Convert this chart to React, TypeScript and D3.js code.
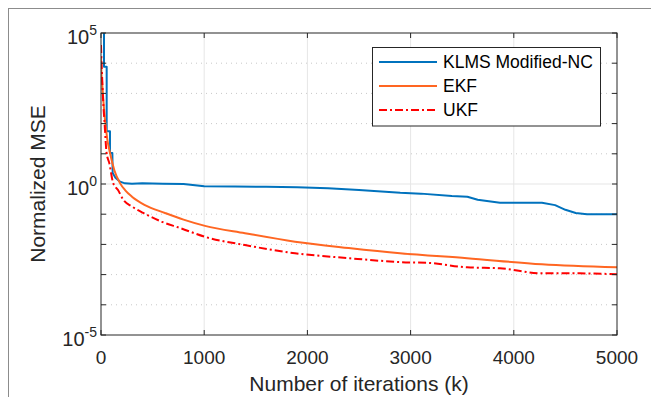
import React from "react";
import * as d3 from "d3";

const W = 651;
const H = 397;

// Data: iteration k and normalized MSE values
const klmsK = [0, 29, 29, 55, 55, 87, 87, 110, 113, 140, 184, 233, 300, 400, 600, 800, 1000, 1300, 1600, 1900, 2200, 2500, 2900, 3100, 3400, 3550, 3650, 3866, 4273, 4400, 4500, 4600, 4709, 5000];
const klmsV = [1e6, 1e6, 7.6e3, 7.6e3, 56, 56, 10.7, 10.7, 2.3, 1.6, 1.2, 1.05, 1.02, 1.05, 1.02, 1.0, 0.85, 0.83, 0.81, 0.78, 0.72, 0.63, 0.51, 0.48, 0.4, 0.38, 0.3, 0.24, 0.24, 0.2, 0.14, 0.11, 0.1, 0.1];

const ekfK = [0, 5, 10, 20, 39, 60, 87, 130, 184, 233, 300, 426, 620, 800, 1008, 1395, 1880, 2400, 2897, 3547, 4273, 5000];
const ekfV = [1.6e4, 4e3, 2.5e3, 800, 132, 32, 10.7, 2.8, 1.07, 0.63, 0.38, 0.2, 0.11, 0.066, 0.041, 0.0234, 0.0123, 0.0076, 0.0051, 0.0035, 0.0022, 0.00174];

const ukfK = [0, 5, 10, 20, 35, 54, 80, 118, 165, 216, 300, 410, 590, 765, 1008, 1395, 1880, 2400, 2897, 3200, 3547, 3866, 4273, 4641, 5000];
const ukfV = [4e4, 1e4, 4e3, 630, 100, 10.7, 5, 1.07, 0.63, 0.3, 0.18, 0.11, 0.056, 0.035, 0.0178, 0.0095, 0.0051, 0.0035, 0.0026, 0.0024, 0.00174, 0.00162, 0.0011, 0.0011, 0.00102];

const xTicks = [0, 1000, 2000, 3000, 4000, 5000];
const yMajor = [5, 0, -5];
const yMinor = [4, 3, 2, 1, -1, -2, -3, -4];

const seriesNames = ["KLMS Modified-NC", "EKF", "UKF"];
const seriesColors = ["#0072BD", "#FF6622", "#FF0000"];
const seriesDash = ["", "", "8,3,2,3"];

export default function App() {
  const L = 101, R = 617, T = 33, B = 335;
  const x = d3.scaleLinear().domain([0, 5000]).range([L, R]);
  const y = d3.scaleLog().domain([1e-5, 1e5]).range([B, T]);
  const font = "'Liberation Sans', Arial, Helvetica, sans-serif";
  const axisColor = "#262626";

  const mk = (ks: number[], vs: number[], smooth: boolean) =>
    d3
      .line<number>()
      .x((_, i) => x(ks[i]))
      .y((v) => y(v))
      .curve(smooth ? d3.curveMonotoneX : d3.curveLinear)(vs) || "";

  const paths = [mk(klmsK, klmsV, false), mk(ekfK, ekfV, true), mk(ukfK, ukfV, true)];
  const tickLen = 5;

  return (
    <svg width={W} height={H} style={{ position: "absolute", left: 0, top: 0, background: "#fff" }} fontFamily={font}>
      <defs>
        <clipPath id="plotclip">
          <rect x={L} y={T} width={R - L} height={B - T} />
        </clipPath>
      </defs>
      {/* figure frame */}
      <line x1={8} y1={8.5} x2={W} y2={8.5} stroke="#8c8c8c" strokeWidth={1} />
      <line x1={8.5} y1={8} x2={8.5} y2={H} stroke="#8c8c8c" strokeWidth={1} />

      {/* grid */}
      {yMinor.map((e) => (
        <line key={"mg" + e} x1={L} x2={R} y1={y(Math.pow(10, e))} y2={y(Math.pow(10, e))} stroke="#c8c8c8" strokeWidth={1} strokeDasharray="1,4" />
      ))}
      {xTicks.slice(1, -1).map((t) => (
        <line key={"xg" + t} x1={x(t)} x2={x(t)} y1={T} y2={B} stroke="#e6e6e6" strokeWidth={1} />
      ))}
      <line x1={L} x2={R} y1={y(1)} y2={y(1)} stroke="#e6e6e6" strokeWidth={1.2} />

      {/* series */}
      <g clipPath="url(#plotclip)">
        {paths.map((p, i) => (
          <path key={i} d={p} fill="none" stroke={seriesColors[i]} strokeWidth={2} strokeDasharray={seriesDash[i]} strokeLinejoin="round" />
        ))}
      </g>

      {/* axes box */}
      <rect x={L} y={T} width={R - L} height={B - T} fill="none" stroke={axisColor} strokeWidth={1} />

      {/* x ticks */}
      {xTicks.map((t) => (
        <g key={"xt" + t}>
          <line x1={x(t)} x2={x(t)} y1={B} y2={B - tickLen} stroke={axisColor} />
          <line x1={x(t)} x2={x(t)} y1={T} y2={T + tickLen} stroke={axisColor} />
          <text x={x(t)} y={364} textAnchor="middle" fontSize={19} fill="#262626">{t}</text>
        </g>
      ))}

      {/* y ticks */}
      {[...yMajor, ...yMinor].map((e) => (
        <g key={"yt" + e}>
          <line x1={L} x2={L + tickLen} y1={y(Math.pow(10, e))} y2={y(Math.pow(10, e))} stroke={axisColor} />
          <line x1={R} x2={R - tickLen} y1={y(Math.pow(10, e))} y2={y(Math.pow(10, e))} stroke={axisColor} />
        </g>
      ))}
      {yMajor.map((e) => (
        <text key={"yl" + e} x={97} y={y(Math.pow(10, e)) + 11} textAnchor="end" fontSize={20} fill="#262626">
          10<tspan fontSize={14} dy={-9}>{e}</tspan>
        </text>
      ))}

      {/* axis labels */}
      <text x={(L + R) / 2} y={391} textAnchor="middle" fontSize={21} fill="#262626">Number of iterations (k)</text>
      <text transform={`translate(45,${(T + B) / 2}) rotate(-90)`} textAnchor="middle" fontSize={21} fill="#262626">Normalized MSE</text>

      {/* legend */}
      <rect x={372.5} y={47.5} width={228} height={78.5} fill="#fff" stroke={axisColor} strokeWidth={1} />
      {seriesNames.map((n, i) => (
        <g key={n}>
          <line x1={379} x2={437} y1={62 + i * 24} y2={62 + i * 24} stroke={seriesColors[i]} strokeWidth={2} strokeDasharray={seriesDash[i]} />
          <text x={443} y={62 + i * 24 + 6} fontSize={17.5} fill="#000">{n}</text>
        </g>
      ))}
    </svg>
  );
}
